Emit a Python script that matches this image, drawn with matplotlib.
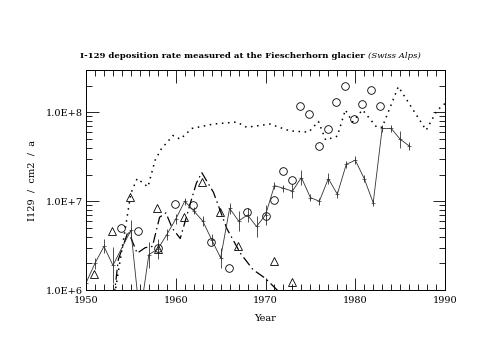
import matplotlib
matplotlib.use("Agg")
import matplotlib.pyplot as plt
from matplotlib.ticker import LogLocator, MultipleLocator, FixedLocator, NullFormatter
import numpy as np

# Measured deposition (solid line with error bars)
anios_med = [1950, 1951, 1952, 1953, 1955, 1956, 1957, 1958, 1959, 1960,
             1961, 1962, 1963, 1964, 1965, 1966, 1967, 1968, 1969, 1970,
             1971, 1972, 1973, 1974, 1975, 1976, 1977, 1978, 1979, 1980,
             1981, 1982, 1983, 1984, 1985, 1986]
valores_med = [1.2e6, 2.0e6, 3.1e6, 1.9e6, 4.7e6, 5.0e5, 2.5e6, 2.9e6, 4.2e6, 6.3e6,
               1.0e7, 7.8e6, 6.0e6, 3.7e6, 2.3e6, 8.3e6, 6.0e6, 7.0e6, 5.2e6, 7.0e6,
               1.5e7, 1.4e7, 1.3e7, 1.85e7, 1.1e7, 1.0e7, 1.8e7, 1.2e7, 2.6e7, 2.9e7,
               1.8e7, 9.6e6, 6.6e7, 6.6e7, 5.0e7, 4.2e7]
# relative error (fraction of value)
error_rel = [0.1, 0.15, 0.2, 0.6, 0.3, 0.5, 0.4, 0.3, 0.15, 0.15,
             0.1, 0.1, 0.15, 0.15, 0.3, 0.15, 0.3, 0.2, 0.3, 0.3,
             0.1, 0.1, 0.2, 0.2, 0.1, 0.1, 0.15, 0.1, 0.1, 0.1,
             0.1, 0.1, 0.1, 0.1, 0.25, 0.1]

# Dotted curve
anios_punt = [1953.2, 1954.4, 1955.0, 1955.7, 1956.9, 1957.7, 1958.4, 1959.7, 1960.5,
              1961.8, 1964.2, 1966.8, 1967.9, 1970.5, 1972.7, 1974.8, 1975.9, 1976.7,
              1978.0, 1978.9, 1979.7, 1980.8, 1982.4, 1983.0, 1984.8, 1987.9, 1989.1, 1990.0]
valores_punt = [9.0e5, 5.1e6, 1.23e7, 1.8e7, 1.45e7, 2.9e7, 3.9e7, 5.5e7, 5.0e7,
                6.6e7, 7.4e7, 7.8e7, 6.8e7, 7.4e7, 6.2e7, 6.0e7, 7.9e7, 4.9e7,
                5.4e7, 1.07e8, 7.8e7, 1.07e8, 6.8e7, 6.8e7, 1.95e8, 6.3e7, 1.05e8, 1.26e8]

# Dash-dot curve
anios_rayas = [1953.1, 1953.6, 1954.7, 1955.7, 1956.6, 1957.4, 1958.2, 1958.9, 1959.6,
               1960.5, 1961.6, 1962.3, 1962.9, 1964.2, 1965.7, 1967.2, 1968.6, 1970.0,
               1971.3, 1971.6]
valores_rayas = [8.0e5, 2.2e6, 4.6e6, 2.6e6, 3.0e6, 3.1e6, 6.6e6, 7.4e6, 5.0e6,
                 3.8e6, 9.3e6, 1.6e7, 2.1e7, 1.26e7, 4.9e6, 2.6e6, 1.7e6, 1.35e6,
                 1.0e6, 9.0e5]

# Circles
anios_circ = [1953.9, 1955.8, 1958.0, 1959.9, 1961.9, 1963.9, 1965.9, 1967.9, 1970.0,
              1970.9, 1972.0, 1973.0, 1973.8, 1974.9, 1976.0, 1977.0, 1977.9, 1978.9,
              1979.9, 1980.8, 1981.8, 1982.8]
valores_circ = [5.0e6, 4.6e6, 3.0e6, 9.3e6, 9.1e6, 3.5e6, 1.75e6, 7.6e6, 6.9e6,
                1.02e7, 2.2e7, 1.75e7, 1.17e8, 9.5e7, 4.2e7, 6.5e7, 1.3e8, 2.0e8,
                8.5e7, 1.26e8, 1.8e8, 1.17e8]

# Triangles
anios_tri = [1950.9, 1952.9, 1954.9, 1957.9, 1958.0, 1960.9, 1962.9, 1964.9, 1966.9,
             1971.0, 1972.9]
valores_tri = [1.5e6, 4.6e6, 1.12e7, 8.3e6, 2.9e6, 6.6e6, 1.65e7, 7.6e6, 3.1e6,
               2.1e6, 1.23e6]

plt.rcParams["font.family"] = "DejaVu Serif"

fig = plt.figure(figsize=(5.0, 3.63), dpi=100)
ax = fig.add_axes([0.172, 0.201, 0.718, 0.606])

v = np.array(valores_med)
e = np.array(error_rel)
yerr = [v * e / (1 + e), v * e]
ax.errorbar(anios_med, valores_med, yerr=yerr, color="#333333", lw=0.6,
            elinewidth=0.6, capsize=0, marker="+", ms=3, mew=0.5)
ax.plot(anios_punt, valores_punt, color="black", lw=1.1, linestyle=(0, (1, 3)))
ax.plot(anios_rayas, valores_rayas, color="black", lw=0.9,
        linestyle=(0, (8, 3, 1.2, 3)))
ax.plot(anios_circ, valores_circ, linestyle="none", marker="o", ms=5.5,
        mfc="none", mec="black", mew=0.6)
ax.plot(anios_tri, valores_tri, linestyle="none", marker="^", ms=5.5,
        mfc="none", mec="black", mew=0.6)

ax.set_yscale("log")
ax.set_xlim(1950, 1990)
ax.set_ylim(1e6, 3e8)

ax.xaxis.set_major_locator(MultipleLocator(10))
ax.xaxis.set_minor_locator(MultipleLocator(1))
ax.yaxis.set_major_locator(FixedLocator([1e6, 1e7, 1e8]))
ax.yaxis.set_minor_locator(LogLocator(base=10, subs=np.arange(2, 10)))
ax.yaxis.set_minor_formatter(NullFormatter())
ax.set_yticklabels(["1.0E+6", "1.0E+7", "1.0E+8"])

ax.tick_params(which="both", direction="in", top=True, right=True, labelsize=7,
               width=0.6)
ax.tick_params(axis="y", pad=2)
ax.tick_params(axis="x", pad=4)
ax.tick_params(which="major", length=9)
ax.tick_params(which="minor", length=4)
for s in ax.spines.values():
    s.set_linewidth(0.7)

ax.set_xlabel("Year", fontsize=7, labelpad=7)
ax.set_ylabel("I129  /  cm2  /  a", fontsize=7, labelpad=7)

t1 = fig.text(0.16, 0.835, "I-129 deposition rate measured at the Fiescherhorn glacier ",
              fontsize=6.1, fontweight="bold", ha="left", va="bottom")
fig.canvas.draw()
bb = t1.get_window_extent()
x_fin = bb.x1 / fig.bbox.width
fig.text(x_fin, 0.835, "(Swiss Alps)", fontsize=6.1, style="italic",
         ha="left", va="bottom")

fig.savefig("out.png", dpi=100)
